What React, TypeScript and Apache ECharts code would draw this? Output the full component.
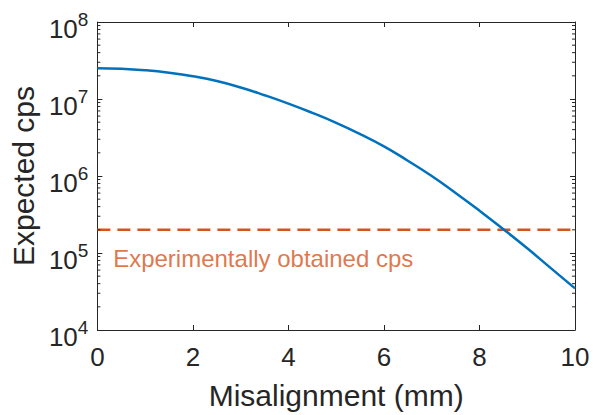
import React, { useEffect, useRef } from "react";
import * as echarts from "echarts";

// Misalignment (mm)
const misalignment = [0, 0.5, 1, 1.5, 2, 2.5, 3, 3.5, 4, 4.5, 5, 5.5, 6, 6.5, 7, 7.5, 8, 8.5, 9, 9.5, 10];
// Expected cps
const expectedCps = [
  2.51e7, 2.47e7, 2.36e7, 2.19e7, 1.97e7, 1.71e7, 1.41e7, 1.12e7, 8.71e6, 6.61e6, 4.9e6,
  3.51e6, 2.43e6, 1.58e6, 1.0e6, 6.03e5, 3.55e5, 2.04e5, 1.15e5, 6.31e4, 3.47e4,
];
// Experimentally obtained cps level
const experimentalX = [0, 10];
const experimentalCps = [2e5, 2e5];
const annotationText = "Experimentally obtained cps";
const annotationPoint = [0.33, 8.6e4];

const xTicks = [0, 2, 4, 6, 8, 10];
const yDecades = [1e4, 1e5, 1e6, 1e7];
const minorFactors = [2, 3, 4, 5, 6, 7, 8, 9];

const AXIS = "#262626";
const BLUE = "#0072BD";
const ORANGE = "#D95319";
const FONT = "Liberation Sans, Arial, Helvetica, sans-serif";

export default function App() {
  const ref = useRef<HTMLDivElement>(null);
  useEffect(() => {
    if (!ref.current) return;
    const chart = echarts.init(ref.current, undefined, { renderer: "svg" });
    const minorTicks: number[][] = [];
    yDecades.forEach((d) => minorFactors.forEach((f) => minorTicks.push([0, d * f])));

    const commonX = {
      type: "value" as const,
      min: xTicks[0],
      max: xTicks[xTicks.length - 1],
      interval: 2,
      splitLine: { show: false },
      axisLine: { show: true, onZero: false, lineStyle: { color: AXIS, width: 1 } },
      axisTick: { show: true, inside: true, length: 5, lineStyle: { color: AXIS } },
    };
    const commonY = {
      type: "log" as const,
      logBase: 10,
      min: 1e4,
      max: 1e8,
      splitNumber: 4,
      splitLine: { show: false },
      axisLine: { show: true, onZero: false, lineStyle: { color: AXIS, width: 1 } },
      axisTick: { show: true, inside: true, length: 5, lineStyle: { color: AXIS } },
    };

    chart.setOption({
      animation: false,
      textStyle: { fontFamily: FONT },
      grid: { left: 97, right: 18, top: 22, bottom: 85, containLabel: false },
      xAxis: [
        {
          ...commonX,
          position: "bottom",
          name: "Misalignment (mm)",
          nameLocation: "middle",
          nameGap: 50,
          nameTextStyle: { color: AXIS, fontSize: 30, fontFamily: FONT, lineHeight: 30 },
          axisLabel: { color: AXIS, fontSize: 26, margin: 14, fontFamily: FONT, lineHeight: 26 },
        },
        { ...commonX, position: "top", axisLabel: { show: false } },
      ],
      yAxis: [
        {
          ...commonY,
          position: "left",
          name: "Expected cps",
          nameLocation: "middle",
          nameGap: 55,
          nameTextStyle: { color: AXIS, fontSize: 30, fontFamily: FONT },
          axisLabel: {
            color: AXIS,
            margin: 9,
            padding: [7, 0, 0, 0],
            formatter: (v: number) => `{b|10}{s|${Math.round(Math.log10(v))}}`,
            rich: {
              b: { fontSize: 26, color: AXIS, fontFamily: FONT, verticalAlign: "bottom", lineHeight: 32 },
              s: { fontSize: 19, color: AXIS, fontFamily: FONT, verticalAlign: "top", lineHeight: 32 },
            },
          },
        },
        { ...commonY, position: "right", axisLabel: { show: false } },
      ],
      series: [
        {
          type: "line",
          data: misalignment.map((x, i) => [x, expectedCps[i]]),
          smooth: 0.5,
          showSymbol: false,
          symbol: "none",
          lineStyle: { color: BLUE, width: 2.5 },
          z: 3,
        },
        {
          type: "line",
          data: experimentalX.map((x, i) => [x, experimentalCps[i]]),
          showSymbol: false,
          symbol: "none",
          lineStyle: { color: ORANGE, width: 2.5, type: [13, 7] },
          z: 2,
        },
        {
          type: "scatter",
          data: [annotationPoint],
          symbolSize: 0,
          label: {
            show: true,
            position: "right",
            distance: 0,
            formatter: annotationText,
            color: ORANGE,
            fontSize: 24,
            fontFamily: FONT,
          },
          silent: true,
          z: 4,
        },
        {
          type: "custom",
          data: minorTicks,
          clip: false,
          silent: true,
          renderItem: (params: any, api: any) => {
            const v = api.value(1);
            const l = api.coord([xTicks[0], v]);
            const r = api.coord([xTicks[xTicks.length - 1], v]);
            const style = { stroke: AXIS, lineWidth: 1 };
            return {
              type: "group",
              children: [
                { type: "line", shape: { x1: l[0], y1: l[1], x2: l[0] + 3, y2: l[1] }, style },
                { type: "line", shape: { x1: r[0] - 3, y1: r[1], x2: r[0], y2: r[1] }, style },
              ],
            };
          },
          z: 5,
        },
      ],
    });
    return () => chart.dispose();
  }, []);
  return (
    <div
      ref={ref}
      style={{ position: "absolute", left: 0, top: 0, width: 593, height: 415, background: "#fff" }}
    />
  );
}
